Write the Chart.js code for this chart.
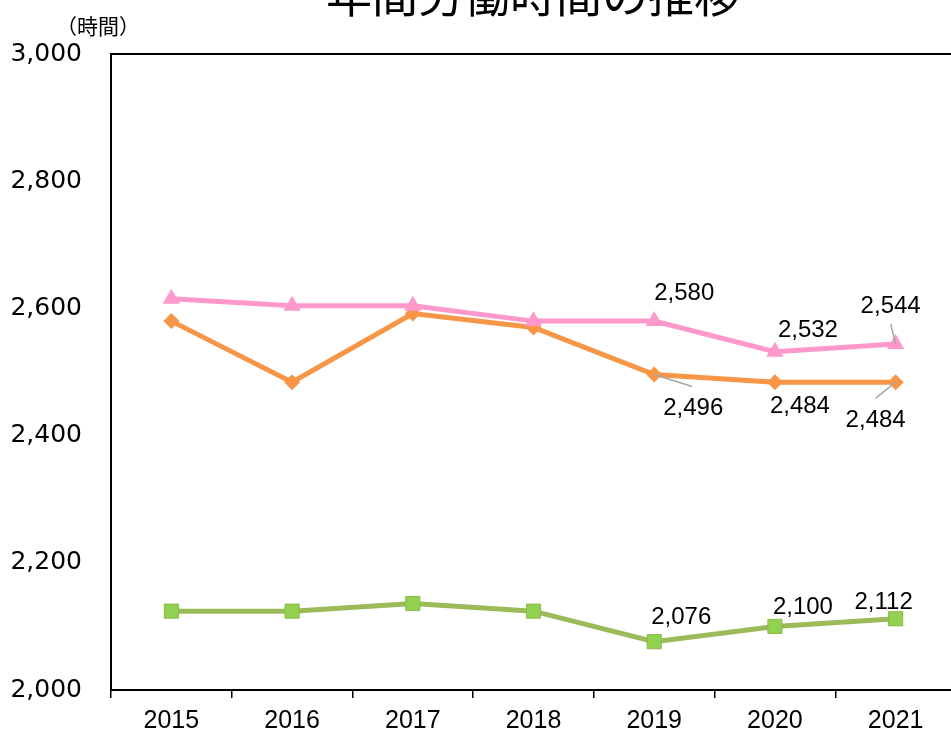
<!DOCTYPE html>
<html><head><meta charset="utf-8">
<script src="https://cdn.jsdelivr.net/npm/chart.js@4/dist/chart.umd.min.js"></script>
<style>
html,body{margin:0;padding:0;background:#fff;overflow:hidden;width:951px;height:734px;}
#wrap{position:absolute;left:0;top:0;width:1066px;height:734px;}
</style></head>
<body>
<div id="wrap"><canvas id="c" width="1066" height="734"></canvas></div>
<script>
// ---- data ----
const titleText = '年間労働時間の推移';
const yUnitLabel = '（時間）';
const years = ['2015','2016','2017','2018','2019','2020','2021'];
const seriesPink   = [2615, 2604, 2604, 2580, 2580, 2532, 2544];
const seriesOrange = [2580, 2484, 2592, 2570, 2496, 2484, 2484];
const seriesGreen  = [2124, 2124, 2136, 2124, 2076, 2100, 2112];
const labelledIdx  = [4, 5, 6];
const yMin = 2000, yMax = 3000, yStep = 200;

// ---- label placement (style only) ----
const labelOffsets = [
  [[30,-28],[33,-21],[-5,-38]],
  [[39,34],[25,24],[-20,38]],
  [[27,-24],[28,-19],[-12,-16]]
];
const leaderEnds = [
  [null,null,[-5,-20]],
  [[38,12],null,[-20,16]],
  [null,null,null]
];

const fmt = v => v.toLocaleString('en-US');

const overlay = {
  id:'overlay',
  afterDraw(chart){
    const ctx = chart.ctx, ca = chart.chartArea;
    ctx.save();
    ctx.strokeStyle='#000'; ctx.lineWidth=2;
    ctx.beginPath(); ctx.moveTo(ca.left, ca.top); ctx.lineTo(ca.right+2, ca.top); ctx.stroke();
    ctx.fillStyle='#000';
    ctx.font='46px "Noto Sans CJK JP"';
    ctx.textAlign='center'; ctx.textBaseline='alphabetic';
    ctx.fillText(titleText, 533, 12);
    ctx.font='21px "Noto Sans CJK JP"';
    ctx.fillText(yUnitLabel, 98, 34);
    ctx.font='24px "Liberation Sans", Arial, sans-serif';
    ctx.textBaseline='middle';
    chart.data.datasets.forEach((ds, di) => {
      const meta = chart.getDatasetMeta(di);
      labelledIdx.forEach((idx, k) => {
        const pt = meta.data[idx];
        const le = leaderEnds[di][k];
        if (le) {
          ctx.strokeStyle='#A6A6A6'; ctx.lineWidth=1.5;
          ctx.beginPath(); ctx.moveTo(pt.x, pt.y); ctx.lineTo(pt.x+le[0], pt.y+le[1]); ctx.stroke();
        }
        const o = labelOffsets[di][k];
        ctx.fillStyle='#000';
        ctx.fillText(fmt(ds.data[idx]), pt.x+o[0], pt.y+o[1]);
      });
    });
    ctx.restore();
  }
};

new Chart(document.getElementById('c'), {
  type:'line',
  data:{
    labels: years,
    datasets:[
      {data: seriesPink, borderColor:'#FF99CC', backgroundColor:'#FF99CC', borderWidth:5,
       pointStyle:'triangle', pointRadius:10, pointBorderWidth:0, tension:0},
      {data: seriesOrange, borderColor:'#F79646', backgroundColor:'#F79646', borderWidth:5,
       pointStyle:'rectRot', pointRadius:8, pointBorderWidth:0, tension:0},
      {data: seriesGreen, borderColor:'#9BBB59', backgroundColor:'#92D050', borderWidth:5,
       pointStyle:'rect', pointRadius:10, pointBorderWidth:1, pointBorderColor:'#8DB94A', tension:0}
    ]
  },
  options:{
    responsive:false, animation:false, devicePixelRatio:1,
    layout:{padding:{top:54, right:110, bottom:0, left:0}},
    plugins:{legend:{display:false}, title:{display:false}, tooltip:{enabled:false}},
    scales:{
      x:{
        offset:true,
        grid:{display:true, drawOnChartArea:false, drawTicks:true, tickLength:8, color:'#000', lineWidth:1.5, offset:true},
        border:{display:true, color:'#000', width:2},
        ticks:{color:'#000', font:{family:'"Liberation Sans", Arial, sans-serif', size:25}, padding:8, maxRotation:0},
        afterFit(s){ s.height = 43; }
      },
      y:{
        min:yMin, max:yMax,
        grid:{display:false, drawTicks:false},
        border:{display:true, color:'#000', width:2},
        ticks:{stepSize:yStep, color:'#000', font:{family:'"DejaVu Sans", sans-serif', size:25}, padding:29,
               callback:v=>fmt(v)},
        afterFit(s){ s.width = 111; }
      }
    }
  },
  plugins:[overlay]
});
</script>
</body></html>
